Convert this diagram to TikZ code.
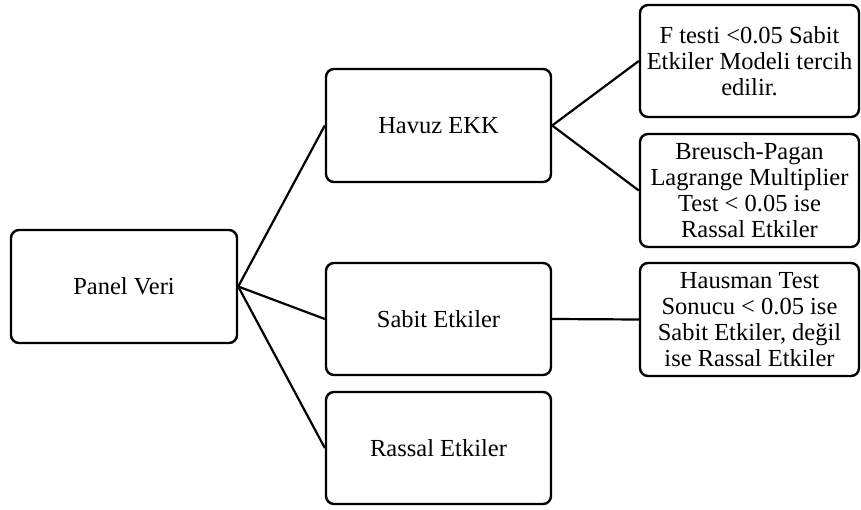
\documentclass[tikz,border=0pt]{standalone}
\usepackage{fontspec}
\setmainfont{Liberation Serif}

\begin{document}
\begin{tikzpicture}[x=1pt,y=1pt]
\tikzstyle{every node}+=[inner sep=0pt]
\tikzstyle{kutu}=[draw=black, line width=2.4pt, rounded corners=8pt, align=center, font=\fontsize{24.5}{26}\selectfont]
\tikzstyle{genis}=[kutu, minimum width=225pt, minimum height=113pt]
\tikzstyle{dar}=[kutu, minimum width=219pt, minimum height=113pt]
\tikzstyle{baglanti}=[black, line width=2.2pt]
\useasboundingbox (0,0) rectangle (861,-510);
\node [genis, minimum width=226pt] (panel) at (124,-286.5) {Panel Veri};
\node [genis] (havuz) at (438.5,-125.5) {Havuz EKK};
\node [genis, minimum height=112pt] (sabit) at (438.5,-319) {Sabit Etkiler};
\node [genis, minimum height=112pt] (rassal) at (438.5,-448) {Rassal Etkiler};
\node [dar, minimum height=112pt] (ftesti) at (749.5,-61) {F testi <0.05 Sabit\\Etkiler Modeli tercih\\edilir.};
\node [dar] (breusch) at (749.5,-190.5) {Breusch-Pagan\\Lagrange Multiplier\\Test < 0.05 ise\\Rassal Etkiler};
\node [dar] (hausman) at (749.5,-319.5) {Hausman Test\\Sonucu < 0.05 ise\\Sabit Etkiler, değil\\ise Rassal Etkiler};
\draw [baglanti] (panel.east) -- (havuz.west);
\draw [baglanti] (panel.east) -- (sabit.west);
\draw [baglanti] (panel.east) -- (rassal.west);
\draw [baglanti] (havuz.east) -- (ftesti.west);
\draw [baglanti] (havuz.east) -- (breusch.west);
\draw [baglanti] (sabit.east) -- (hausman.west);
\end{tikzpicture}
\end{document}
